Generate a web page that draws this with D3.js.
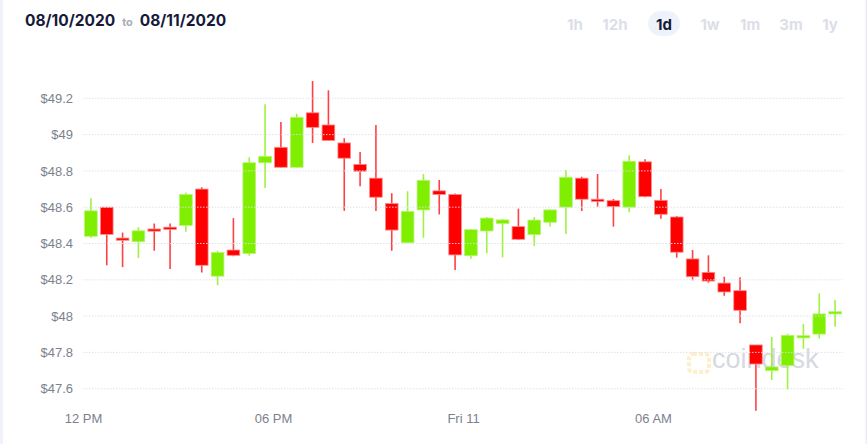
<!DOCTYPE html>
<html>
<head>
<meta charset="utf-8">
<script src="https://cdn.jsdelivr.net/npm/d3@7"></script>
<style>
  body { margin: 0; background: #fff; }
</style>
</head>
<body>
<div id="chartContainer"></div>
<script>
// 30 minute candles, hours after 12 PM on 08/10/2020
const hours = [0, 0.5, 1, 1.5, 2, 2.5, 3, 3.5, 4, 4.5, 5, 5.5,
  6, 6.5, 7, 7.5, 8, 8.5, 9, 9.5, 10, 10.5, 11, 11.5,
  12, 12.5, 13, 13.5, 14, 14.5, 15, 15.5, 16, 16.5, 17, 17.5,
  18, 18.5, 19, 19.5, 20, 20.5, 21, 21.5, 22, 22.5, 23, 23.5];
const opens = [48.44, 48.60, 48.43, 48.41, 48.48, 48.49, 48.50, 48.70, 48.22, 48.364, 48.345, 48.845,
  48.93, 48.82, 49.12, 49.053, 48.954, 48.836, 48.76, 48.62, 48.404, 48.585, 48.69, 48.67,
  48.333, 48.469, 48.51, 48.493, 48.449, 48.517, 48.60, 48.76, 48.644, 48.636, 48.60, 48.85,
  48.638, 48.546, 48.315, 48.241, 48.182, 48.14, 47.841, 47.70, 47.727, 47.883, 47.901, 48.015];
const highs = [48.65, 48.60, 48.46, 48.49, 48.51, 48.51, 48.68, 48.71, 48.36, 48.54, 48.875, 49.167,
  49.07, 49.115, 49.295, 49.244, 48.98, 48.904, 49.053, 48.677, 48.688, 48.783, 48.75, 48.675,
  48.48, 48.546, 48.535, 48.592, 48.546, 48.587, 48.805, 48.768, 48.783, 48.645, 48.886, 48.864,
  48.70, 48.552, 48.364, 48.335, 48.217, 48.214, 47.841, 47.885, 47.903, 47.957, 48.126, 48.089];
const lows = [48.43, 48.28, 48.27, 48.32, 48.36, 48.26, 48.465, 48.24, 48.17, 48.33, 48.333, 48.706,
  48.818, 48.818, 48.954, 48.965, 48.58, 48.715, 48.579, 48.36, 48.40, 48.432, 48.56, 48.254,
  48.316, 48.346, 48.324, 48.42, 48.386, 48.493, 48.452, 48.579, 48.603, 48.493, 48.572, 48.655,
  48.537, 48.322, 48.197, 48.184, 48.112, 47.96, 47.479, 47.648, 47.597, 47.82, 47.876, 47.942];
const closes = [48.58, 48.45, 48.42, 48.47, 48.47, 48.48, 48.67, 48.28, 48.35, 48.335, 48.845, 48.88,
  48.82, 49.095, 49.04, 48.968, 48.87, 48.798, 48.655, 48.474, 48.577, 48.748, 48.67, 48.337,
  48.476, 48.54, 48.53, 48.423, 48.529, 48.585, 48.765, 48.644, 48.633, 48.603, 48.853, 48.658,
  48.561, 48.352, 48.217, 48.193, 48.133, 48.032, 47.736, 47.72, 47.894, 47.892, 48.012, 48.024];

const yTicks = [47.6, 47.8, 48, 48.2, 48.4, 48.6, 48.8, 49, 49.2];
const xTicks = [0, 6, 12, 18];
const xTickLabels = ["12 PM", "06 PM", "Fri 11", "06 AM"];
const ranges = ["1h", "12h", "1d", "1w", "1m", "3m", "1y"];
const activeRange = "1d";
const dateFrom = "08/10/2020";
const dateTo = "08/11/2020";

const candles = hours.map((h, i) => ({
  t: h, open: opens[i], high: highs[i], low: lows[i], close: closes[i]
}));

const width = 868, height = 444;
const green = "#7fee00", red = "#ff0000";

const svg = d3.select("#chartContainer")
  .append("svg")
  .attr("width", width)
  .attr("height", height)
  .style("display", "block")
  .style("font-family", "'Liberation Sans', Arial, sans-serif");

svg.append("rect").attr("width", width).attr("height", height).attr("fill", "#fff");
svg.append("rect").attr("x", 0).attr("y", 0).attr("width", 3).attr("height", height).attr("fill", "#eff2fa");
svg.append("rect").attr("x", 865.5).attr("y", 0).attr("width", 1.5).attr("height", height).attr("fill", "#eceef3");

// header
const head = svg.append("text")
  .attr("x", 25)
  .attr("y", 26)
  .style("font-family", "Inter, 'Open Sans', sans-serif");
head.append("tspan").attr("font-weight", 700).attr("font-size", "15.5px").attr("fill", "#161a3a").text(dateFrom);
head.append("tspan").attr("dx", 7).attr("font-weight", 700).attr("font-size", "11px").attr("fill", "#a9acb8").text("to");
head.append("tspan").attr("dx", 7).attr("font-weight", 700).attr("font-size", "15.5px").attr("fill", "#161a3a").text(dateTo);

const btnX = [575, 615, 664, 710, 750, 791, 830];
svg.append("rect")
  .attr("x", 648).attr("y", 11).attr("width", 32).attr("height", 25).attr("rx", 12.5)
  .attr("fill", "#eef2fa");
svg.selectAll(".range")
  .data(ranges)
  .enter()
  .append("text")
  .attr("class", "range")
  .attr("x", (d, i) => btnX[i])
  .attr("y", 30)
  .attr("text-anchor", "middle")
  .style("font-family", "Inter, 'Open Sans', sans-serif")
  .attr("font-size", "15px")
  .attr("font-weight", 700)
  .attr("fill", d => d === activeRange ? "#151a3a" : "#dcdee8")
  .text(d => d);

// scales
const xScale = d3.scaleLinear().domain([0, 24]).range([83, 843]);
const yScale = d3.scaleLinear().domain([47.6, 49.2]).range([388.7, 98.3]);
const step = xScale(0.5) - xScale(0);
const bodyW = step * 0.8;

// watermark
const wm = svg.append("g").attr("transform", "translate(687, 352)");
wm.append("rect").attr("x", 2).attr("y", 2).attr("width", 20).attr("height", 18).attr("rx", 4)
  .attr("fill", "none").attr("stroke", "#fdefc9").attr("stroke-width", 4).attr("stroke-dasharray", "4,2");
svg.append("text")
  .attr("x", 712).attr("y", 368)
  .attr("font-size", "27px")
  .attr("fill", "#d6d9e1")
  .text("coindesk");

// candles
const cg = svg.append("g");
const candle = cg.selectAll(".candle")
  .data(candles)
  .enter()
  .append("g")
  .attr("class", "candle");

candle.append("line")
  .attr("x1", d => xScale(d.t + 0.25))
  .attr("x2", d => xScale(d.t + 0.25))
  .attr("y1", d => yScale(d.high))
  .attr("y2", d => yScale(d.low))
  .attr("stroke", d => d.close >= d.open ? green : red)
  .attr("stroke-opacity", 0.75)
  .attr("stroke-width", 1.6);

candle.append("rect")
  .attr("x", d => xScale(d.t + 0.25) - bodyW / 2)
  .attr("y", d => yScale(Math.max(d.open, d.close)))
  .attr("width", bodyW)
  .attr("height", d => Math.max(2.2, Math.abs(yScale(d.open) - yScale(d.close))))
  .attr("fill", d => d.close >= d.open ? green : red)
  .attr("stroke", d => d.close >= d.open ? "#b5f56a" : "#ff8a8a")
  .attr("stroke-width", 0.8);

// grid on top
svg.append("g")
  .selectAll("line")
  .data(yTicks)
  .enter()
  .append("line")
  .attr("x1", 83)
  .attr("x2", 843)
  .attr("y1", d => yScale(d))
  .attr("y2", d => yScale(d))
  .attr("stroke", "#dddfea")
  .attr("stroke-opacity", 0.9)
  .attr("stroke-width", 1)
  .attr("stroke-dasharray", "1.5,1.5");

// y axis
const yAxis = svg.append("g")
  .attr("transform", "translate(73, 0)")
  .call(d3.axisLeft(yScale).tickValues(yTicks).tickSize(0).tickPadding(0)
    .tickFormat(d => "$" + (+d.toFixed(1))));
yAxis.select(".domain").remove();
yAxis.selectAll("text")
  .attr("font-size", "13px")
  .attr("font-family", "'Liberation Sans', Arial, sans-serif")
  .attr("fill", "#7d818d");

// x axis
const xAxis = svg.append("g")
  .attr("transform", "translate(0, 414)")
  .call(d3.axisBottom(xScale).tickValues(xTicks).tickSize(0).tickPadding(0)
    .tickFormat((d, i) => xTickLabels[i]));
xAxis.select(".domain").remove();
xAxis.selectAll("text")
  .attr("font-size", "13px")
  .attr("font-family", "'Liberation Sans', Arial, sans-serif")
  .attr("fill", "#7d818d");
</script>
</body>
</html>
